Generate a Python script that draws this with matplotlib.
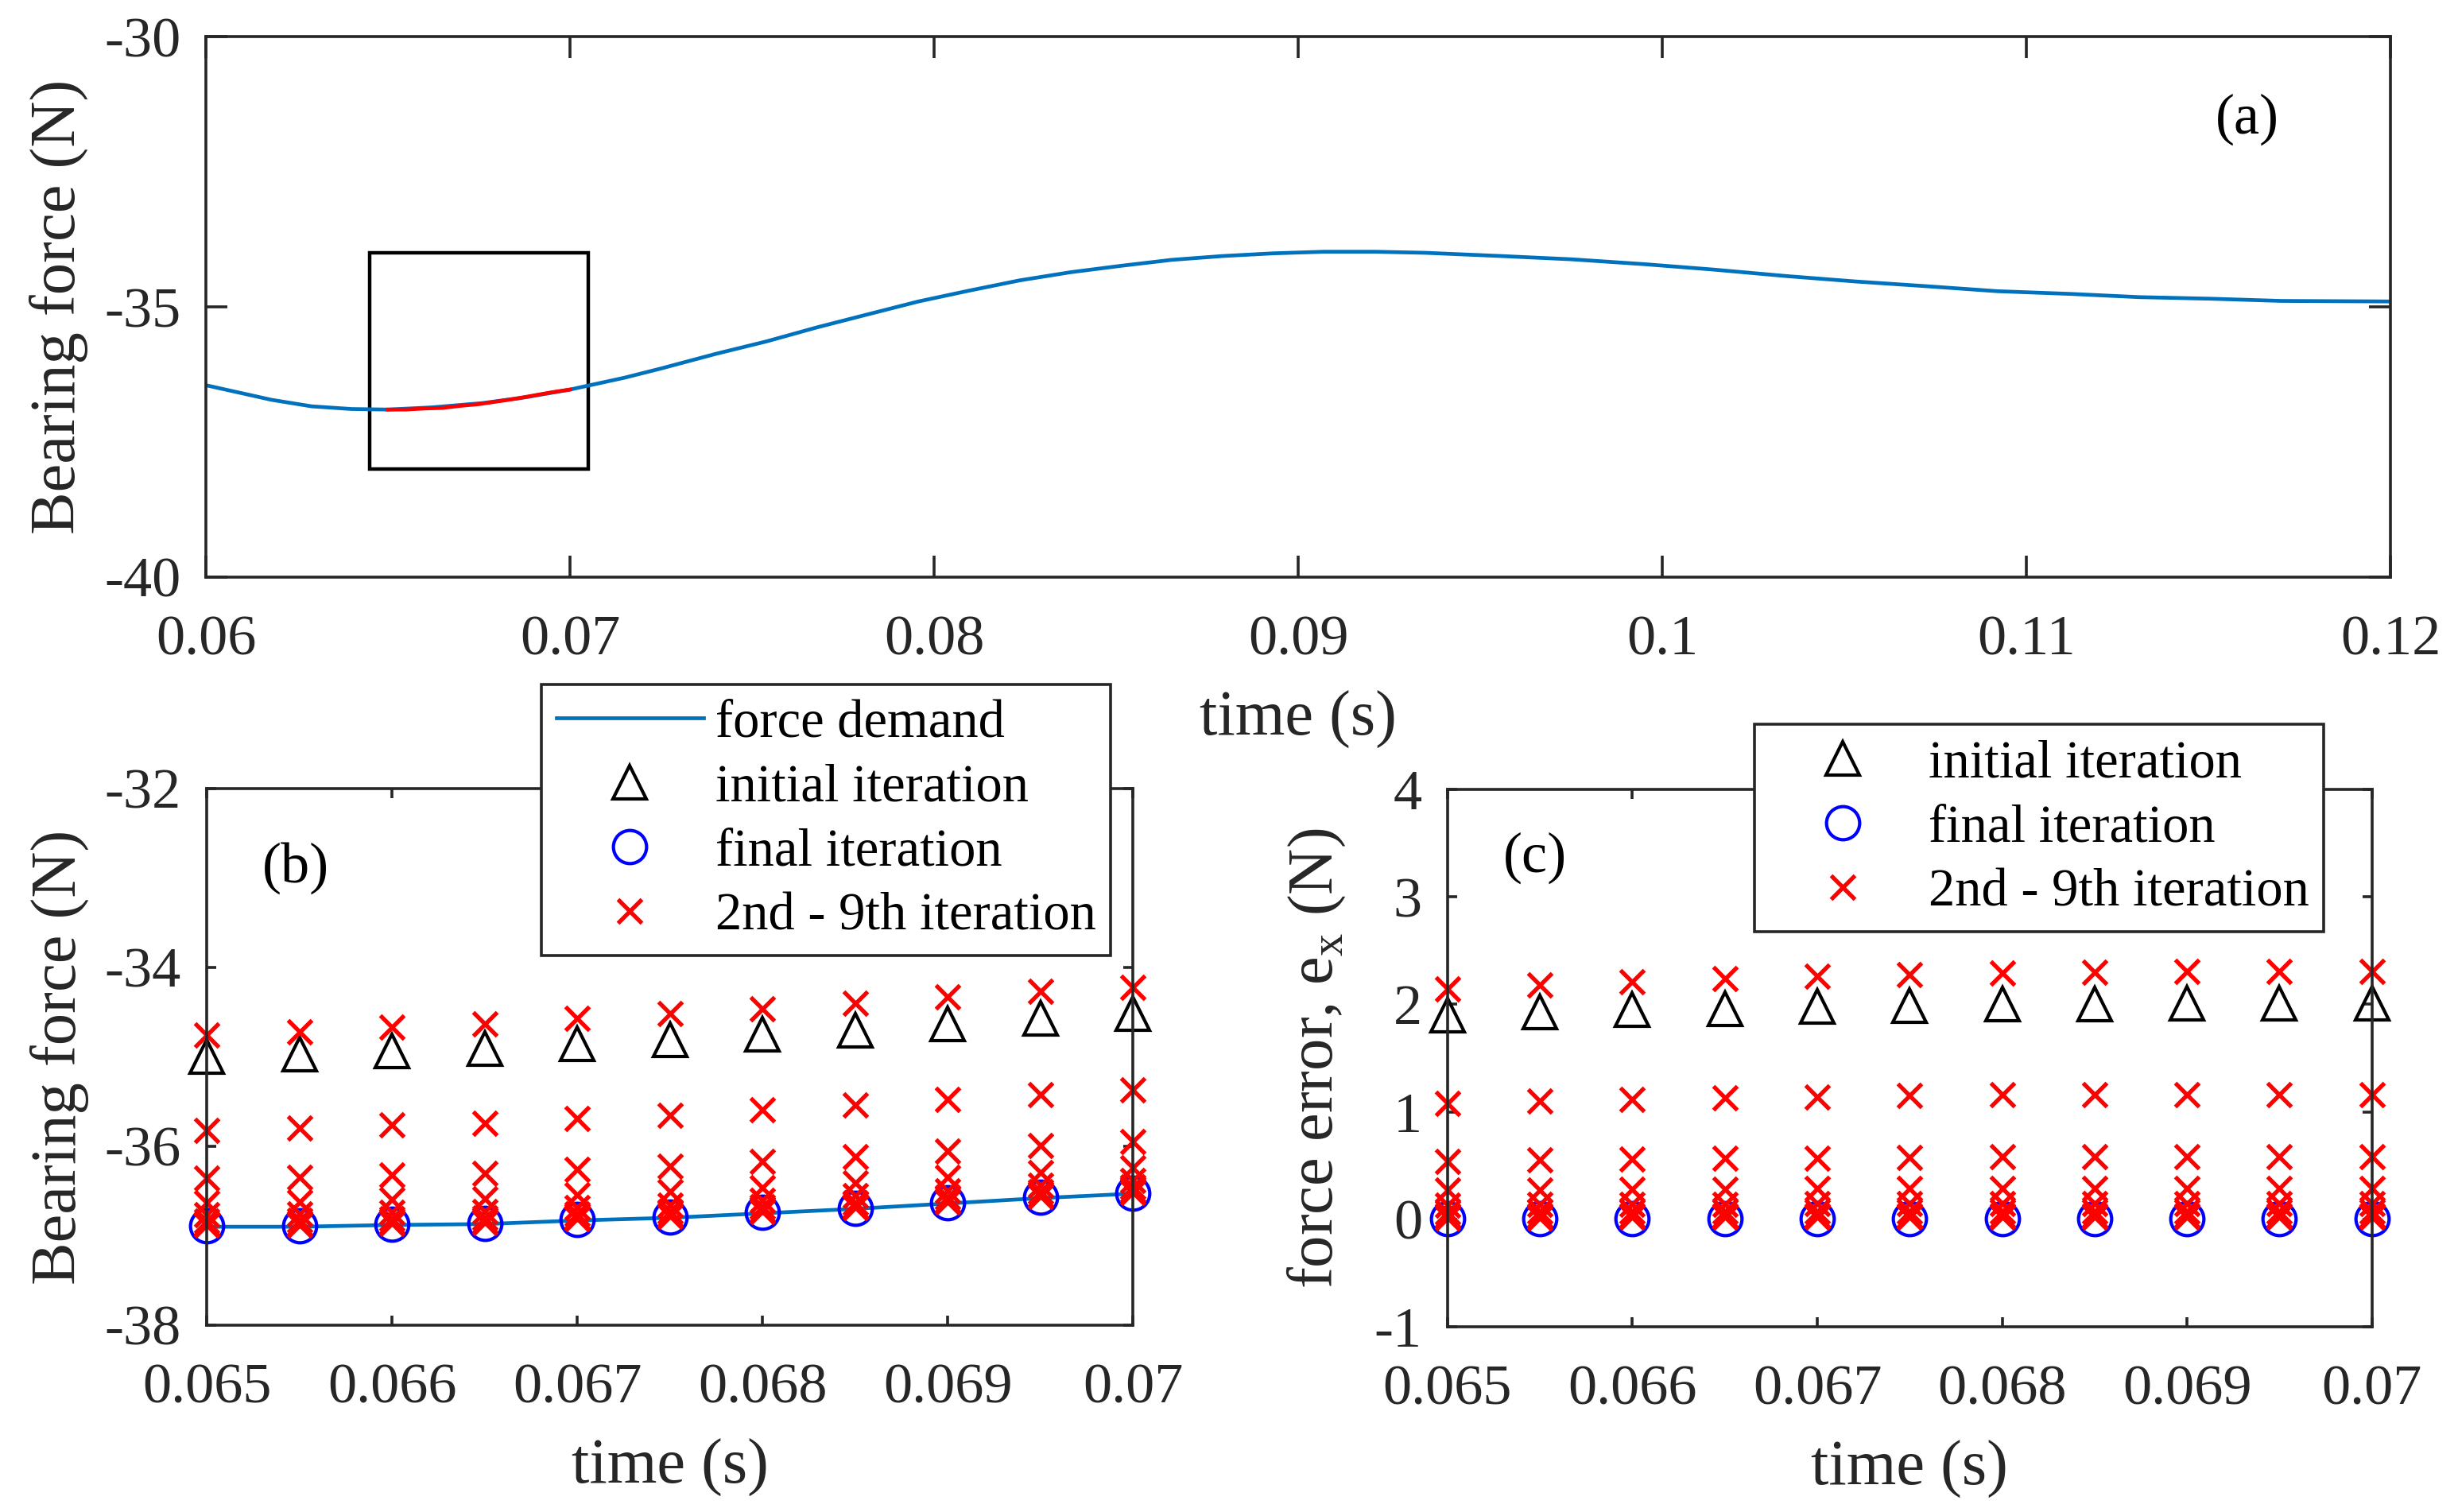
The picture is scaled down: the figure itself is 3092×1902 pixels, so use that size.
import numpy as np
import matplotlib
matplotlib.use('Agg')
import matplotlib.pyplot as plt
from matplotlib.lines import Line2D
from matplotlib.patches import Rectangle
from matplotlib.ticker import FixedLocator, FuncFormatter

plt.rcParams['font.family'] = ['Liberation Serif', 'DejaVu Serif']
plt.rcParams['mathtext.fontset'] = 'custom'
plt.rcParams['mathtext.rm'] = 'Liberation Serif'
plt.rcParams['axes.unicode_minus'] = False

# force demand over the whole window
t_demand = [0.0600, 0.0608, 0.0618, 0.0629, 0.0640, 0.0650, 0.0662, 0.0676,
            0.0688, 0.0700, 0.0715, 0.0725, 0.0740, 0.07539, 0.07678, 0.07817,
            0.07957, 0.08096, 0.08235, 0.08374, 0.08514, 0.08653, 0.08792,
            0.08931, 0.09071, 0.09210, 0.09349, 0.09558, 0.0975, 0.0995,
            0.1014, 0.1034, 0.1053, 0.1073, 0.1092, 0.1112, 0.1131, 0.1151,
            0.1170, 0.1200]
f_demand = [-36.45, -36.57, -36.72, -36.84, -36.89, -36.90, -36.86, -36.78,
            -36.67, -36.53, -36.31, -36.14, -35.87, -35.64, -35.38, -35.14,
            -34.90, -34.70, -34.51, -34.36, -34.24, -34.13, -34.06,
            -34.01, -33.98, -33.98, -34.00, -34.06, -34.12, -34.21,
            -34.31, -34.43, -34.53, -34.62, -34.71, -34.76, -34.82, -34.85,
            -34.89, -34.90]

# zoomed window (b), (c)
t_zoom = [0.065, 0.0655, 0.066, 0.0665, 0.067, 0.0675, 0.068, 0.0685, 0.069, 0.0695, 0.07]
demand_zoom = [-36.90, -36.90, -36.88, -36.87, -36.83, -36.80, -36.75, -36.70, -36.64, -36.58, -36.53]

# force error per iteration
err_initial = [1.90, 1.93, 1.95, 1.96, 1.98, 1.99, 2.00, 2.00, 2.01, 2.01, 2.01]
err_mid = [
    [2.14, 2.18, 2.21, 2.24, 2.26, 2.28, 2.29, 2.30, 2.31, 2.31, 2.31],   # 2nd
    [1.08, 1.10, 1.115, 1.13, 1.14, 1.15, 1.16, 1.16, 1.16, 1.16, 1.16],  # 3rd
    [0.54, 0.55, 0.56, 0.565, 0.57, 0.575, 0.58, 0.58, 0.585, 0.585, 0.585],
    [0.27, 0.275, 0.28, 0.28, 0.285, 0.29, 0.29, 0.29, 0.29, 0.29, 0.29],
    [0.135, 0.14, 0.14, 0.14, 0.145, 0.145, 0.145, 0.145, 0.145, 0.145, 0.145],
    [0.068, 0.07, 0.07, 0.07, 0.072, 0.072, 0.072, 0.072, 0.072, 0.072, 0.072],
    [0.034, 0.035, 0.035, 0.035, 0.036, 0.036, 0.036, 0.036, 0.036, 0.036, 0.036],
    [0.017, 0.017, 0.018, 0.018, 0.018, 0.018, 0.018, 0.018, 0.018, 0.018, 0.018],  # 9th
]
err_final = [0.008, 0.009, 0.009, 0.009, 0.009, 0.009, 0.009, 0.009, 0.009, 0.009, 0.009]

zoom_box = [0.0645, 0.0705, -38.0, -34.0]

# bearing force in (b) = demand + error
demand_arr = np.array(demand_zoom)
force_initial = demand_arr + np.array(err_initial)
force_final = demand_arr + np.array(err_final)
force_mid = [demand_arr + np.array(e) for e in err_mid]

BLUE = '#0072BD'
AXC = '#262626'
TICK_FS = 26
LABEL_FS = 29
LEG_FS = 24

fig = plt.figure(figsize=(15.46, 9.51), dpi=200)
ax_a = fig.add_axes([0.0838, 0.6183, 0.8887, 0.3575])
ax_b = fig.add_axes([0.0841, 0.1236, 0.3768, 0.3549])
ax_c = fig.add_axes([0.5889, 0.1225, 0.3761, 0.3554])

def style_axes(ax, ticklen):
  for s in ax.spines.values():
    s.set_linewidth(1.3)
    s.set_color(AXC)
  ax.tick_params(which='both', direction='in', top=True, right=True,
                 length=ticklen, width=1.3, color=AXC, labelcolor=AXC,
                 labelsize=TICK_FS)
  ax.tick_params(axis='x', pad=17)
  ax.tick_params(axis='y', pad=11.5)

fmt = FuncFormatter(lambda v, p: '%g' % round(v, 4))

# ---- (a)
ax_a.plot(t_demand, f_demand, color=BLUE, lw=1.7)
ax_a.plot(t_zoom, demand_zoom, color='red', lw=1.7)
ax_a.add_patch(Rectangle((zoom_box[0], zoom_box[2]), zoom_box[1] - zoom_box[0],
                         zoom_box[3] - zoom_box[2], fill=False, ec='black', lw=1.6))
ax_a.set_xlim(0.06, 0.12)
ax_a.set_ylim(-40, -30)
ax_a.xaxis.set_major_locator(FixedLocator(np.arange(0.06, 0.1201, 0.01)))
ax_a.yaxis.set_major_locator(FixedLocator([-40, -35, -30]))
ax_a.xaxis.set_major_formatter(fmt)
ax_a.yaxis.set_major_formatter(fmt)
style_axes(ax_a, 9.7)
ax_a.set_xlabel('time (s)', fontsize=LABEL_FS, color=AXC, labelpad=11)
ax_a.set_ylabel('Bearing force (N)', fontsize=LABEL_FS, color=AXC, labelpad=7)
ax_a.text(0.1152, -31.53, '(a)', fontsize=TICK_FS, va='center', ha='left')

# ---- (b)
mk_tri = dict(marker='^', ms=15, mfc='none', mec='black', mew=1.5, ls='none')
mk_circ = dict(marker='o', ms=15, mfc='none', mec='blue', mew=1.5, ls='none')
mk_x = dict(marker='x', ms=11, mec='red', mew=1.9, ls='none')

ax_b.plot(t_zoom, demand_zoom, color=BLUE, lw=1.7)
ax_b.plot(t_zoom, force_initial, clip_on=False, **mk_tri)
ax_b.plot(t_zoom, force_final, clip_on=False, **mk_circ)
for fm in force_mid:
  ax_b.plot(t_zoom, fm, clip_on=False, **mk_x)
ax_b.set_xlim(0.065, 0.07)
ax_b.set_ylim(-38, -32)
ax_b.xaxis.set_major_locator(FixedLocator(np.arange(0.065, 0.07001, 0.001)))
ax_b.yaxis.set_major_locator(FixedLocator([-38, -36, -34, -32]))
ax_b.xaxis.set_major_formatter(fmt)
ax_b.yaxis.set_major_formatter(fmt)
style_axes(ax_b, 4.3)
ax_b.set_xlabel('time (s)', fontsize=LABEL_FS, color=AXC, labelpad=11)
ax_b.set_ylabel('Bearing force (N)', fontsize=LABEL_FS, color=AXC, labelpad=7)
ax_b.text(0.0653, -32.89, '(b)', fontsize=TICK_FS, va='center', ha='left')

# ---- (c)
ax_c.plot(t_zoom, err_initial, clip_on=False, **mk_tri)
ax_c.plot(t_zoom, err_final, clip_on=False, **mk_circ)
for e in err_mid:
  ax_c.plot(t_zoom, e, clip_on=False, **mk_x)
ax_c.set_xlim(0.065, 0.07)
ax_c.set_ylim(-1, 4)
ax_c.xaxis.set_major_locator(FixedLocator(np.arange(0.065, 0.07001, 0.001)))
ax_c.yaxis.set_major_locator(FixedLocator([-1, 0, 1, 2, 3, 4]))
ax_c.xaxis.set_major_formatter(fmt)
ax_c.yaxis.set_major_formatter(fmt)
style_axes(ax_c, 4.3)
ax_c.set_xlabel('time (s)', fontsize=LABEL_FS, color=AXC, labelpad=11)
ax_c.set_ylabel(r'force error, e$_\mathregular{x}$ (N)', fontsize=LABEL_FS,
                color=AXC, labelpad=12)
ax_c.text(0.0653, 3.36, '(c)', fontsize=TICK_FS, va='center', ha='left')

# ---- legends
h_line = Line2D([], [], color=BLUE, lw=1.7)
h_tri = Line2D([], [], **mk_tri)
h_circ = Line2D([], [], **mk_circ)
h_x = Line2D([], [], **mk_x)
leg_kw = dict(loc='upper left', bbox_transform=fig.transFigure, borderaxespad=0,
              borderpad=0.28, handlelength=2.78, handletextpad=0.22,
              labelspacing=0.3, fontsize=LEG_FS, numpoints=1, fancybox=False,
              edgecolor=AXC, framealpha=1)
leg_b = ax_b.legend([h_line, h_tri, h_circ, h_x],
                    ['force demand', 'initial iteration', 'final iteration',
                     '2nd - 9th iteration'],
                    bbox_to_anchor=(0.2202, 0.5473), **leg_kw)
leg_b.get_frame().set_linewidth(1.3)
leg_b.set_zorder(10)
leg_c = ax_c.legend([h_tri, h_circ, h_x],
                    ['initial iteration', 'final iteration', '2nd - 9th iteration'],
                    bbox_to_anchor=(0.7138, 0.5208), **leg_kw)
leg_c.get_frame().set_linewidth(1.3)
leg_c.set_zorder(10)

fig.savefig('out.png', dpi=200)
